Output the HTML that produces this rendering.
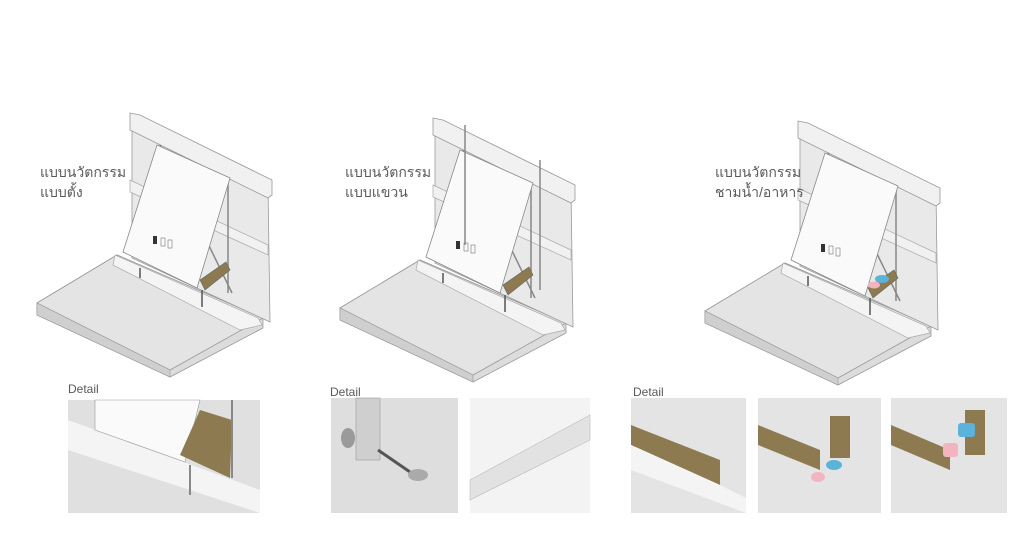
<!DOCTYPE html>
<html><head><meta charset="utf-8"><style>
html,body{margin:0;padding:0;background:#fff;width:1036px;height:543px;overflow:hidden}
svg{display:block}
text{font-family:"Liberation Sans","Noto Sans CJK SC",sans-serif;fill:#5a5a5a}
</style></head><body>
<svg width="1036" height="543" viewBox="0 0 1036 543" xmlns="http://www.w3.org/2000/svg">
<defs>
<g id="scene">
  <polygon points="37,303 117,255 263,318 263,328 170,377 37,315" fill="#dcdcdc" stroke="#999" stroke-width="0.8"/>
  <polygon points="37,303 117,255 263,318 170,370" fill="#e4e4e4" stroke="#999" stroke-width="0.8"/>
  <polygon points="37,303 170,370 170,377 37,315" fill="#cfcfcf" stroke="#999" stroke-width="0.6"/>
  <polygon points="132,120 268,185 270,322 132,258" fill="#e9e9e9" stroke="#9a9a9a" stroke-width="0.8"/>
  <polygon points="130,113 140,115 272,180 272,195 268,198 130,130" fill="#f1f1f1" stroke="#999" stroke-width="0.8"/>
  <polygon points="130,180 268,245 268,255 130,192" fill="#f1f1f1" stroke="#aaa" stroke-width="0.7"/>
  <polygon points="115,255 258,318 262,325 240,330 113,265" fill="#f4f4f4" stroke="#aaa" stroke-width="0.7"/>
  <line x1="160" y1="145" x2="232" y2="293" stroke="#888" stroke-width="1.5"/>
  <line x1="228" y1="180" x2="228" y2="293" stroke="#888" stroke-width="1.5"/>
  <polygon points="200,280 226,262 230,270 205,290" fill="#8d7a50" stroke="#666" stroke-width="0.6"/>
  <polygon points="157,145 230,178 197,288 123,252" fill="#fafafa" stroke="#888" stroke-width="0.8"/>
  <rect x="153" y="236" width="4" height="8" fill="#333"/>
  <rect x="161" y="238" width="4" height="8" fill="none" stroke="#777" stroke-width="0.6"/>
  <rect x="168" y="240" width="4" height="8" fill="none" stroke="#777" stroke-width="0.6"/>
  <line x1="140" y1="268" x2="140" y2="278" stroke="#555" stroke-width="1.5"/>
  <line x1="202" y1="290" x2="202" y2="307" stroke="#555" stroke-width="1.5"/>
</g>
</defs>

<use href="#scene"/>
<use href="#scene" transform="translate(303,5)"/>
<use href="#scene" transform="translate(668,8)"/>
<line x1="465" y1="125" x2="465" y2="245" stroke="#888" stroke-width="1.5"/>
<line x1="540" y1="160" x2="540" y2="290" stroke="#888" stroke-width="1.5"/>
<ellipse cx="882" cy="279" rx="7" ry="4" fill="#5bb3d9"/>
<ellipse cx="874" cy="285" rx="6" ry="3.5" fill="#f2b4c0"/>

<text x="40" y="177" font-size="14">แบบนวัตกรรม</text>
<text x="40" y="197" font-size="14">แบบตั้ง</text>
<text x="345" y="177" font-size="14">แบบนวัตกรรม</text>
<text x="345" y="197" font-size="14">แบบแขวน</text>
<text x="715" y="177" font-size="14">แบบนวัตกรรม</text>
<text x="715" y="197" font-size="14">ชามน้ำ/อาหาร</text>

<text x="68" y="393" font-size="12">Detail</text>
<text x="330" y="396" font-size="12">Detail</text>
<text x="633" y="396" font-size="12">Detail</text>

<rect x="68" y="400" width="192" height="113" fill="#e0e0e0"/>
<polygon points="68,420 260,490 260,513 68,450" fill="#f4f4f4"/>
<polygon points="95,400 200,400 185,462 95,430" fill="#fafafa" stroke="#999" stroke-width="0.6"/>
<polygon points="180,455 200,410 232,420 230,478" fill="#8d7a50"/>
<line x1="232" y1="400" x2="232" y2="478" stroke="#888" stroke-width="2"/>
<line x1="190" y1="465" x2="190" y2="495" stroke="#888" stroke-width="2"/>

<rect x="331" y="398" width="127" height="115" fill="#dedede"/>
<rect x="356" y="398" width="24" height="62" fill="#cfcfcf" stroke="#999" stroke-width="0.6"/>
<ellipse cx="348" cy="438" rx="7" ry="10" fill="#9a9a9a"/>
<line x1="378" y1="450" x2="410" y2="472" stroke="#555" stroke-width="3"/>
<ellipse cx="418" cy="475" rx="10" ry="6" fill="#aaa"/>

<rect x="470" y="398" width="120" height="115" fill="#f3f3f3"/>
<polygon points="470,480 590,415 590,440 470,500" fill="#e2e2e2" stroke="#bbb" stroke-width="0.6"/>

<rect x="631" y="398" width="115" height="115" fill="#e4e4e4"/>
<polygon points="631,425 720,460 720,485 631,445" fill="#8d7a50"/>
<polygon points="631,445 720,485 746,498 746,513 631,470" fill="#f4f4f4"/>
<rect x="758" y="398" width="123" height="115" fill="#e4e4e4"/>
<polygon points="758,425 820,450 820,470 758,445" fill="#8d7a50"/>
<rect x="830" y="416" width="20" height="42" fill="#8d7a50"/>
<ellipse cx="834" cy="465" rx="8" ry="5" fill="#5bb3d9"/>
<ellipse cx="818" cy="477" rx="7" ry="5" fill="#f2b4c0"/>
<rect x="891" y="398" width="116" height="115" fill="#e4e4e4"/>
<polygon points="891,425 950,450 950,470 891,445" fill="#8d7a50"/>
<rect x="965" y="410" width="20" height="45" fill="#8d7a50"/>
<rect x="958" y="423" width="17" height="14" rx="3" fill="#5bb3d9"/>
<rect x="943" y="443" width="15" height="14" rx="3" fill="#f2b4c0"/>
</svg>
</body></html>
